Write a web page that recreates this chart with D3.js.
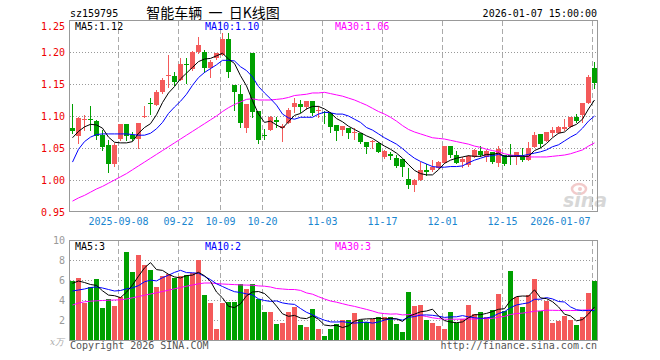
<!DOCTYPE html>
<html>
<head>
<meta charset="utf-8">
<script src="https://cdn.jsdelivr.net/npm/d3@7"></script>
<style>
body{margin:0;background:#fff}
svg{display:block}
text{font-family:"DejaVu Sans Mono",monospace;font-size:10px}
</style>
</head>
<body>
<div id="chart"></div>
<script>
// daily candles, 2025-08-27 .. 2026-01-07
var opens=[1.082,1.068,1.094,1.095,1.092,1.070,1.054,1.025,1.064,1.0875,1.071,1.064,1.0995,1.121,1.117,1.138,1.162,1.1625,1.156,1.181,
1.173,1.2005,1.1995,1.1745,1.19,1.195,1.221,1.148,1.135,1.082,1.199,1.108,1.071,1.078,1.093,1.082,1.0896,1.1146,1.1187,1.1135,
1.124,1.109,1.1068,1.1052,1.086,1.078,1.0818,1.074,1.073,1.06,1.0594,1.0583,1.0354,1.0401,1.0339,1.0323,1.001,0.9922,1.0,1.0156,
1.0156,1.0182,1.027,1.0531,1.039,1.0286,1.0234,1.0365,1.0458,1.0365,1.0443,1.027,1.039,1.039,1.0365,1.0365,1.0313,1.052,1.0719,1.0615,
1.0729,1.074,1.0792,1.0823,1.0979,1.1016,1.1208,1.1745]
var highs=[1.119,1.098,1.102,1.116,1.093,1.078,1.062,1.058,1.088,1.088,1.0755,1.089,1.116,1.128,1.141,1.159,1.195,1.169,1.19,1.19,
1.201,1.224,1.203,1.1875,1.199,1.23,1.229,1.148,1.148,1.119,1.199,1.108,1.079,1.1,1.099,1.0875,1.112,1.1276,1.125,1.124,
1.124,1.1156,1.108,1.1068,1.086,1.0844,1.0818,1.0807,1.073,1.06,1.0625,1.06,1.0469,1.0443,1.039,1.0323,1.0182,1.001,1.0286,1.025,
1.0313,1.029,1.0531,1.0531,1.0458,1.0365,1.039,1.048,1.053,1.047,1.0443,1.053,1.039,1.0563,1.0443,1.0495,1.06,1.0755,1.0719,1.0755,
1.0823,1.0844,1.0948,1.0979,1.1031,1.1208,1.1641,1.1849]
var lows=[1.073,1.058,1.078,1.078,1.064,1.047,1.013,1.022,1.062,1.063,1.0625,1.0495,1.099,1.103,1.117,1.1365,1.146,1.148,1.156,1.152,
1.172,1.198,1.169,1.1615,1.1885,1.195,1.1615,1.109,1.083,1.0755,1.099,1.0583,1.0635,1.078,1.083,1.0615,1.0896,1.1068,1.1068,1.1104,
1.1016,1.099,1.0896,1.0755,1.0625,1.0703,1.065,1.0635,1.0573,1.0427,1.0495,1.0443,1.0339,1.0323,1.0208,1.0063,0.987,0.9833,1.0,1.0078,
1.0141,1.018,1.027,1.0365,1.027,1.0208,1.0219,1.0365,1.0375,1.0302,1.027,1.0219,1.0234,1.025,1.025,1.0302,1.0313,1.051,1.051,1.0615,
1.0688,1.074,1.0781,1.0823,1.0911,1.0911,1.1198,1.1432]
var closes=[1.077,1.097,1.095,1.093,1.068,1.052,1.025,1.055,1.0875,1.069,1.064,1.0885,1.1005,1.120,1.138,1.156,1.1635,1.1536,1.181,1.179,
1.2005,1.211,1.1745,1.185,1.198,1.221,1.168,1.138,1.0895,1.119,1.1068,1.0625,1.070,1.099,1.091,1.084,1.1094,1.1208,1.1146,1.124,
1.1052,1.1094,1.104,1.0823,1.077,1.0844,1.074,1.0755,1.06,1.052,1.0615,1.0443,1.0453,1.0375,1.0224,1.0208,0.9922,1.0,1.0156,1.013,
1.0203,1.0286,1.0531,1.039,1.027,1.0323,1.0375,1.0469,1.039,1.0458,1.0286,1.048,1.025,1.0365,1.0443,1.0313,1.0495,1.0703,1.0563,1.0755,
1.0781,1.0823,1.0833,1.0979,1.0927,1.1198,1.1615,1.152]
// volume, 万手
var volumes=[5.93,6.23,3.73,5.27,6.13,3.23,4.1,3.4,4.33,8.83,6.83,8.53,7.53,7.0,5.3,6.43,6.6,6.23,6.43,6.5,
6.67,8.0,4.5,3.7,1.13,3.7,3.83,3.83,5.63,5.13,5.6,4.07,2.83,2.83,1.63,1.73,2.83,3.3,1.5,1.33,
3.1,1.13,0.43,1.1,1.57,2.0,2.0,2.73,2.0,1.83,2.07,2.3,2.3,2.3,1.6,0.8,4.8,3.4,3.5,2.0,
1.7,1.4,1.1,2.8,1.67,2.07,3.5,2.6,2.8,2.33,3.0,4.6,2.9,6.9,4.3,3.3,4.5,6.1,2.87,3.93,
1.73,1.93,2.43,2.03,1.5,2.3,4.73,5.93]

// moving averages as drawn on the chart
var ma5=[1.066,1.076,1.083,1.087,1.086,1.081,1.067,1.059,1.058,1.058,1.060,1.073,1.082,1.088,1.102,1.121,1.136,1.146,1.158,1.167,
1.176,1.185,1.189,1.190,1.194,1.198,1.189,1.182,1.163,1.147,1.124,1.103,1.090,1.092,1.086,1.081,1.091,1.101,1.104,1.111,
1.115,1.115,1.111,1.105,1.096,1.091,1.084,1.079,1.074,1.069,1.065,1.059,1.053,1.048,1.042,1.034,1.024,1.015,1.010,1.008,
1.008,1.016,1.026,1.031,1.034,1.036,1.038,1.037,1.037,1.040,1.040,1.042,1.037,1.037,1.037,1.037,1.037,1.046,1.050,1.057,
1.066,1.073,1.075,1.083,1.087,1.095,1.111,1.125]
var ma10=[1.028,1.048,1.060,1.067,1.071,1.072,1.072,1.072,1.072,1.072,1.071,1.070,1.070,1.073,1.080,1.090,1.104,1.114,1.123,1.134,
1.148,1.160,1.168,1.174,1.180,1.187,1.187,1.186,1.177,1.171,1.161,1.146,1.136,1.127,1.117,1.103,1.097,1.095,1.098,1.098,
1.098,1.103,1.106,1.105,1.103,1.103,1.100,1.095,1.090,1.082,1.078,1.072,1.066,1.061,1.056,1.049,1.041,1.034,1.029,1.025,
1.021,1.020,1.020,1.021,1.021,1.022,1.027,1.031,1.034,1.037,1.038,1.040,1.037,1.037,1.038,1.038,1.040,1.042,1.044,1.047,
1.052,1.055,1.061,1.067,1.072,1.081,1.092,1.100]
var ma30=[0.967,0.972,0.976,0.981,0.986,0.990,0.995,1.000,1.005,1.010,1.016,1.022,1.028,1.034,1.040,1.046,1.052,1.058,1.064,1.070,
1.076,1.082,1.088,1.094,1.100,1.107,1.113,1.118,1.122,1.126,1.127,1.125,1.125,1.125,1.126,1.127,1.129,1.132,1.133,1.134,
1.136,1.136,1.137,1.135,1.133,1.131,1.128,1.125,1.121,1.117,1.112,1.107,1.103,1.098,1.092,1.085,1.079,1.075,1.072,1.069,
1.066,1.065,1.064,1.062,1.060,1.058,1.056,1.053,1.051,1.048,1.046,1.044,1.041,1.039,1.038,1.037,1.036,1.036,1.036,1.036,
1.037,1.038,1.039,1.041,1.044,1.047,1.053,1.058]
var vma5=[5.67,5.9,5.75,5.55,5.46,4.92,4.49,4.43,4.24,4.78,5.50,6.38,7.21,7.74,7.04,6.96,6.57,6.31,6.20,6.44,
6.49,6.77,6.42,5.87,4.80,4.21,3.37,3.24,3.62,4.42,4.80,4.85,4.65,4.09,3.39,2.62,2.37,2.46,2.20,2.14,
2.41,2.07,1.50,1.42,1.47,1.25,1.42,1.88,2.06,2.11,2.13,2.19,2.10,2.16,2.11,1.86,2.36,2.58,2.82,2.90,
3.08,2.40,1.94,1.80,1.73,1.81,2.23,2.53,2.53,2.66,2.85,3.07,3.13,3.95,4.34,4.40,4.38,5.02,4.21,4.14,
3.83,3.31,2.58,2.41,1.92,2.04,2.60,3.30]
var vma10=[4.9,5.0,5.1,5.25,5.3,5.2,5.05,4.9,4.95,5.12,5.21,5.44,5.82,5.99,5.91,6.23,6.48,6.76,6.97,6.74,
6.72,6.67,6.37,6.04,5.62,5.35,5.07,4.83,4.75,4.61,4.51,4.11,3.95,3.86,3.91,3.71,3.61,3.56,3.15,2.77,
2.52,2.22,1.98,1.81,1.80,1.83,1.75,1.69,1.74,1.79,1.69,1.80,1.99,2.11,2.11,1.99,2.27,2.34,2.49,2.51,
2.47,2.38,2.26,2.31,2.32,2.44,2.31,2.23,2.16,2.20,2.33,2.65,2.83,3.24,3.50,3.62,3.72,4.07,4.08,4.24,
4.11,3.85,3.80,3.31,3.03,2.93,2.96,2.94]
var vma30=[3.5,3.7,3.82,3.88,3.92,3.95,3.98,4.0,4.02,4.1,4.22,4.35,4.48,4.6,4.72,4.85,4.98,5.12,5.25,5.38,
5.5,5.62,5.7,5.7,5.65,5.6,5.57,5.54,5.51,5.49,5.48,5.41,5.38,5.30,5.15,5.10,5.05,5.05,4.96,4.71,
4.58,4.33,4.10,3.90,3.78,3.63,3.48,3.36,3.21,3.06,2.90,2.71,2.64,2.59,2.61,2.51,2.54,2.53,2.46,2.35,
2.22,2.14,2.08,2.08,2.08,2.09,2.11,2.09,2.13,2.16,2.16,2.28,2.36,2.55,2.64,2.69,2.77,2.88,2.91,2.98,
2.97,2.96,2.96,2.95,2.95,3.00,3.00,3.08]

var tickIdx=[8,18,25,32,42,52,62,72,87]
var tickLabels=['2025-09-08','09-22','10-09','10-20','11-03','11-17','12-01','12-15','2026-01-07']
var priceTicks=[0.95,1.00,1.05,1.10,1.15,1.20,1.25]
var volTicks=[2,4,6,8,10]
var maLabels=['MA5:1.12','MA10:1.10','MA30:1.06']
var volMaLabels=['MA5:3','MA10:2','MA30:3']
var maColors=['#000','#0000ff','#ff00ff']

var UP='#f45a5a', DOWN='#00a000'
var plotL=70, plotR=597
var barw=5

var svg=d3.select('#chart').append('svg')
    .attr('width',660)
    .attr('height',360)

var x=d3.scaleLinear().domain([0,88]).range([70,598])
var y=d3.scaleLinear().domain([0.95,1.25]).range([212,20])
var yv=d3.scaleLinear().domain([0,10]).range([340,240])

function px(i){return Math.round(x(i))}
function col(i){return closes[i]>=opens[i] ? UP : DOWN}

// ---- header
svg.append('text').attr('x',70).attr('y',16.5).text('sz159795')
svg.append('text').attr('x',213).attr('y',18).attr('text-anchor','middle')
    .style('font-family','"Noto Sans CJK SC",sans-serif').style('font-size','14px')
    .style('white-space','pre')
    .text('智能车辆  一  日K线图')
svg.append('text').attr('x',597).attr('y',16.5).attr('text-anchor','end')
    .text('2026-01-07 15:00:00')

// ---- grids
function HGrid(scale,ticks){
    svg.append('g')
	.attr('transform','translate('+plotL+',0)')
	.call(d3.axisRight(scale).tickValues(ticks).tickSize(plotR-plotL).tickFormat(''))
	.call(function(g){g.select('.domain').remove()})
	.selectAll('line')
	.attr('stroke','#999')
	.attr('stroke-dasharray','1,2')
}
function VGrid(top,bot){
    svg.append('g').selectAll('line')
	.data(tickIdx).enter().append('line')
	.attr('x1',function(d){return px(d)+0.5})
	.attr('x2',function(d){return px(d)+0.5})
	.attr('y1',top).attr('y2',bot)
	.attr('stroke','#aaa')
	.attr('stroke-dasharray','5,3')
}
HGrid(y,[1.00,1.05,1.10,1.15,1.20])
VGrid(21,211)
HGrid(yv,[2,4,6,8])
VGrid(241,340)

// sina watermark
var wm=svg.append('g').attr('opacity',0.55)
wm.append('ellipse').attr('cx',579).attr('cy',189).attr('rx',7).attr('ry',5)
    .attr('fill','none').attr('stroke','#e8a0a0').attr('stroke-width',2.5)
wm.append('circle').attr('cx',580).attr('cy',189).attr('r',2).attr('fill','#e8a0a0')
wm.append('text').attr('x',563).attr('y',207)
    .style('font-family','"DejaVu Sans",sans-serif').style('font-size','19px')
    .style('font-weight','bold').style('font-style','italic')
    .attr('fill','#b8b8b8').text('sina')

// ---- axes labels
svg.append('g')
    .attr('transform','translate('+plotL+',0)')
    .call(d3.axisLeft(y).tickValues(priceTicks).tickSize(0).tickPadding(5).tickFormat(d3.format('.2f')))
    .call(function(g){
	g.select('.domain').remove()
	g.selectAll('text').attr('fill','#e00').style('font-size','10px')
	    .style('font-family','"DejaVu Sans Mono",monospace')
	    .attr('dy',function(d){return d==1.25 ? '0.9em' : '0.32em'})
    })

svg.append('g')
    .attr('transform','translate('+plotL+',0)')
    .call(d3.axisLeft(yv).tickValues(volTicks).tickSize(0).tickPadding(5))
    .call(function(g){
	g.select('.domain').remove()
	g.selectAll('text').attr('fill','#999').style('font-size','10px')
	    .style('font-family','"DejaVu Sans Mono",monospace')
    })
svg.append('text').attr('x',64).attr('y',345).attr('text-anchor','end')
    .attr('fill','#aaa').style('font-size','9px').style('font-style','italic')
    .style('font-family','"DejaVu Serif",serif').text('x万')

svg.append('g')
    .attr('transform','translate(0,212)')
    .call(d3.axisBottom(x).tickValues(tickIdx).tickSize(0).tickPadding(6)
	  .tickFormat(function(d,k){return tickLabels[k]}))
    .call(function(g){
	g.select('.domain').remove()
	g.selectAll('text').attr('fill','#1a86d0').style('font-size','10px')
	    .style('font-family','"DejaVu Sans Mono",monospace')
	g.selectAll('text').filter(function(d){return d==87})
	    .attr('text-anchor','end').attr('x',-2)
    })

// ---- candles
var idx=d3.range(closes.length)
var cg=svg.append('g')
cg.selectAll('line.wick').data(idx).enter().append('line')
    .attr('class','wick')
    .attr('x1',function(i){return px(i)+2.5})
    .attr('x2',function(i){return px(i)+2.5})
    .attr('y1',function(i){return Math.round(y(highs[i]))})
    .attr('y2',function(i){return Math.round(y(lows[i]))+1})
    .attr('stroke',col)
cg.selectAll('rect').data(idx).enter().append('rect')
    .attr('x',function(i){return px(i)})
    .attr('width',barw)
    .attr('y',function(i){return Math.round(y(Math.max(opens[i],closes[i])))})
    .attr('height',function(i){
	var h=Math.round(y(Math.min(opens[i],closes[i])))-Math.round(y(Math.max(opens[i],closes[i])))
	return Math.max(1,h)
    })
    .attr('fill',col)

// ---- volume bars
svg.append('g').selectAll('rect').data(idx).enter().append('rect')
    .attr('x',function(i){return px(i)})
    .attr('width',barw)
    .attr('y',function(i){return Math.round(yv(volumes[i]))})
    .attr('height',function(i){return 340-Math.round(yv(volumes[i]))})
    .attr('fill',col)

// ---- moving average lines
function MaLine(data,scale,color){
    var line=d3.line()
	.x(function(d,i){return x(i)+2.5})
	.y(function(d){return scale(d)})
    svg.append('path')
	.datum(data)
	.attr('d',line)
	.attr('fill','none')
	.attr('stroke',color)
	.attr('stroke-width',1)
}
MaLine(ma30,y,maColors[2])
MaLine(ma10,y,maColors[1])
MaLine(ma5,y,maColors[0])
MaLine(vma30,yv,maColors[2])
MaLine(vma10,yv,maColors[1])
MaLine(vma5,yv,maColors[0])

// ---- frames
svg.append('rect').attr('x',69.5).attr('y',20.5).attr('width',528).attr('height',191)
    .attr('fill','none').attr('stroke','#999')
svg.append('rect').attr('x',69.5).attr('y',240.5).attr('width',528).attr('height',100)
    .attr('fill','none').attr('stroke','#999')

// ---- legends
var legX=[75,205,335]
maLabels.forEach(function(t,k){
    svg.append('text').attr('x',legX[k]).attr('y',30).attr('fill',maColors[k]).text(t)
})
volMaLabels.forEach(function(t,k){
    svg.append('text').attr('x',legX[k]).attr('y',250).attr('fill',maColors[k]).text(t)
})

// ---- footer
svg.append('text').attr('x',70).attr('y',349).attr('fill','#555').text('Copyright 2026 SINA.COM')
svg.append('text').attr('x',597).attr('y',349).attr('text-anchor','end').attr('fill','#555')
    .text('http://finance.sina.com.cn')
</script>
</body>
</html>
